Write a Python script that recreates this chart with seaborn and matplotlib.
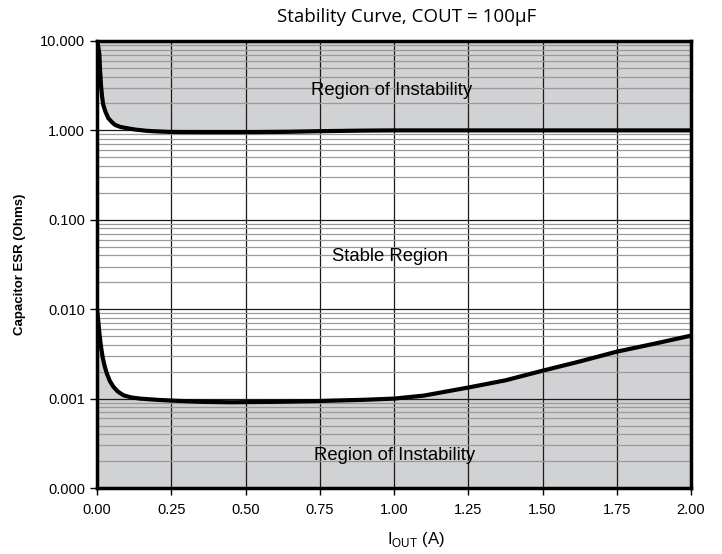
import numpy as np
import pandas as pd
import matplotlib
matplotlib.use("Agg")
import matplotlib.pyplot as plt
import seaborn as sns
from matplotlib.ticker import FixedLocator, LogLocator, NullFormatter

# curve data
iout_upper = [0, 0.004, 0.008, 0.0105, 0.0135, 0.017, 0.021, 0.029, 0.038, 0.05, 0.061,
              0.08, 0.1, 0.13, 0.167, 0.2, 0.25, 0.35, 0.5, 0.65, 0.75, 0.9, 1.0, 1.5, 2.0]
esr_upper = [10, 8.8, 7.0, 4.6, 3.2, 2.4, 1.93, 1.6, 1.37, 1.24, 1.15,
             1.09, 1.06, 1.02, 0.99, 0.975, 0.96, 0.955, 0.955, 0.965, 0.98, 0.995,
             1.0, 1.0, 1.0]

iout_lower = [0, 0.004, 0.008, 0.013, 0.019, 0.026, 0.033, 0.043, 0.055, 0.07, 0.089,
              0.115, 0.145, 0.2, 0.25, 0.35, 0.45, 0.6, 0.75, 0.9, 1.0, 1.1, 1.25,
              1.375, 1.5, 1.625, 1.75, 1.875, 2.0]
esr_lower = [0.01, 0.0075, 0.0054, 0.0039, 0.0029, 0.0023, 0.00191, 0.00158, 0.00136,
             0.0012, 0.00109, 0.00103, 0.001, 0.00097, 0.00095, 0.00092, 0.00091,
             0.00092, 0.00094, 0.00097, 0.001, 0.00108, 0.00133, 0.0016, 0.00205,
             0.0026, 0.00335, 0.0041, 0.00506]

x_ticks = [0, 0.25, 0.5, 0.75, 1.0, 1.25, 1.5, 1.75, 2.0]
x_labels = ["0.00", "0.25", "0.50", "0.75", "1.00", "1.25", "1.50", "1.75", "2.00"]
y_ticks = [0.0001, 0.001, 0.01, 0.1, 1, 10]
y_labels = ["0.000", "0.001", "0.010", "0.100", "1.000", "10.000"]

sns.set_style("white")
plt.rcParams["font.family"] = ["Liberation Sans", "DejaVu Sans"]
plt.rcParams["mathtext.fontset"] = "custom"
plt.rcParams["mathtext.rm"] = "Liberation Sans"
plt.rcParams["text.color"] = "black"
plt.rcParams["axes.labelcolor"] = "black"

df_up = pd.DataFrame({"I": iout_upper, "ESR": esr_upper})
df_lo = pd.DataFrame({"I": iout_lower, "ESR": esr_lower})

fig = plt.figure(figsize=(7.22, 5.54), dpi=100)
ax = fig.add_axes([97/722, 66/554, 594/722, 447/554])

ymin, ymax = 1e-4, 10
fill_col = "#d1d2d4"
ax.fill_between(df_up["I"], df_up["ESR"], ymax, color=fill_col, lw=0, zorder=1)
ax.fill_between(df_lo["I"], ymin, df_lo["ESR"], color=fill_col, lw=0, zorder=1)

sns.lineplot(data=df_up, x="I", y="ESR", ax=ax, color="black", lw=3, zorder=3)
sns.lineplot(data=df_lo, x="I", y="ESR", ax=ax, color="black", lw=3, zorder=3)

ax.set_yscale("log")
ax.set_xlim(0, 2)
ax.set_ylim(ymin, ymax)
ax.set_xticks(x_ticks)
ax.set_xticklabels(x_labels)
ax.yaxis.set_major_locator(FixedLocator(y_ticks))
ax.set_yticklabels(y_labels)
ax.yaxis.set_minor_locator(LogLocator(base=10, subs=np.arange(2, 10)))
ax.yaxis.set_minor_formatter(NullFormatter())

ax.set_axisbelow("line")
ax.grid(which="major", axis="both", color="#1a1a1a", lw=0.9)
ax.grid(which="minor", axis="y", color="#9a9a9a", lw=0.9)

for s in ax.spines.values():
    s.set_linewidth(2.5)
    s.set_color("black")

ax.tick_params(axis="both", which="major", direction="out", length=5, width=1,
               labelsize=10.5, colors="black", left=True, bottom=True)
ax.tick_params(axis="y", which="minor", left=False)
ax.tick_params(axis="x", pad=6)

ax.set_xlabel(r"$\mathrm{I}_{\mathrm{OUT}}$ (A)", fontsize=12)
ax.xaxis.set_label_coords((416 - 97) / 594, -0.095)
ax.set_ylabel("Capacitor ESR (Ohms)", fontsize=9.5, fontweight="bold", labelpad=10)

ax.text(0.993, 2.8, "Region of Instability", fontsize=13.3, ha="center", va="center", zorder=4)
ax.text(0.987, 0.0386, "Stable Region", fontsize=13.3, ha="center", va="center", zorder=4)
ax.text(1.003, 0.00023, "Region of Instability", fontsize=13.3, ha="center", va="center", zorder=4)

fig.text(407/722, 1 - 17/554, "Stability Curve, COUT = 100\u00b5F", fontsize=13.5,
         ha="center", va="center", family=["Open Sans", "DejaVu Sans"])

plt.savefig("out.png", dpi=100)
